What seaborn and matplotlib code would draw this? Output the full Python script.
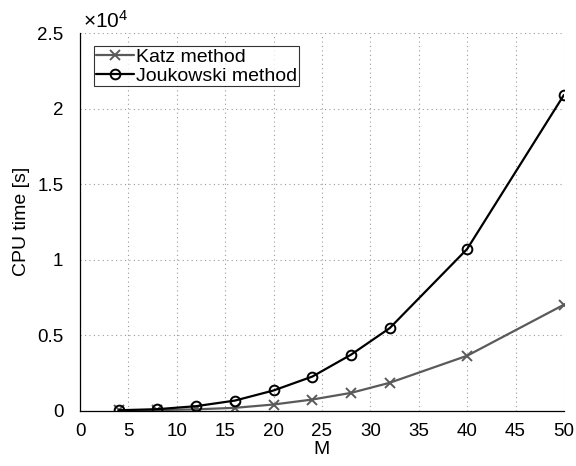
import matplotlib
matplotlib.use("Agg")
import matplotlib.pyplot as plt
import seaborn as sns
import pandas as pd
from matplotlib.ticker import FuncFormatter

M = [4, 8, 12, 16, 20, 24, 28, 32, 40, 50]
katz = [10, 30, 80, 180, 400, 730, 1170, 1840, 3630, 7010]
joukowski = [20, 90, 290, 660, 1330, 2250, 3700, 5460, 10700, 20900]
labels = ["Katz method", "Joukowski method"]

df = pd.DataFrame({
    "M": M * 2,
    "t": katz + joukowski,
    "method": [labels[0]] * len(M) + [labels[1]] * len(M),
})

sns.set_style("white")
plt.rcParams["font.family"] = ["Liberation Sans", "DejaVu Sans"]
plt.rcParams["mathtext.fontset"] = "custom"
plt.rcParams["mathtext.rm"] = "Liberation Sans"
plt.rcParams["mathtext.it"] = "Liberation Sans:italic"
plt.rcParams["text.color"] = "black"
plt.rcParams["axes.labelcolor"] = "black"

fig = plt.figure(figsize=(5.76, 4.66), dpi=100)
ax = fig.add_axes([0.139, 0.119, 0.840, 0.810])

colors = {labels[0]: "#5a5a5a", labels[1]: "#000000"}
markers = {labels[0]: "x", labels[1]: "o"}
for lab in labels:
    sub = df[df["method"] == lab]
    sns.lineplot(data=sub, x="M", y="t", ax=ax, color=colors[lab],
                 marker=markers[lab], markersize=7, linewidth=1.6,
                 markerfacecolor="none" if lab == labels[1] else colors[lab],
                 markeredgecolor=colors[lab], markeredgewidth=1.4,
                 label=lab)

ax.set_xlim(0, 50)
ax.set_ylim(0, 25000)
ax.set_xticks(range(0, 51, 5))
ax.set_yticks([0, 5000, 10000, 15000, 20000, 25000])
ax.yaxis.set_major_formatter(FuncFormatter(lambda v, p: "%g" % (v / 1e4)))
ax.grid(True, linestyle=(0, (1, 3)), color="#9a9a9a", linewidth=0.8)
for s in ["top", "right"]:
    ax.spines[s].set_visible(False)
for s in ["left", "bottom"]:
    ax.spines[s].set_color("black")
    ax.spines[s].set_linewidth(0.9)
ax.tick_params(axis="both", direction="out", length=5, width=0.9,
               labelsize=13.5, colors="black", labelcolor="black", pad=4)
ax.tick_params(axis="y", length=8)
ax.set_xlabel("M", fontsize=14, labelpad=1)
ax.set_ylabel("CPU time [s]", fontsize=14, labelpad=5)
ax.text(0.006, 1.003, r"$\times10^{4}$", transform=ax.transAxes,
        fontsize=15, ha="left", va="bottom")

leg = ax.legend(loc="upper left", bbox_to_anchor=(0.02, 0.975), fontsize=14,
                frameon=True, fancybox=False, edgecolor="black",
                borderpad=0.1, labelspacing=0.05, handlelength=2.0,
                handletextpad=0.1, borderaxespad=0.2)
leg.get_frame().set_linewidth(0.8)
for t in leg.get_texts():
    t.set_color("black")

fig.savefig("out.png", dpi=100)
